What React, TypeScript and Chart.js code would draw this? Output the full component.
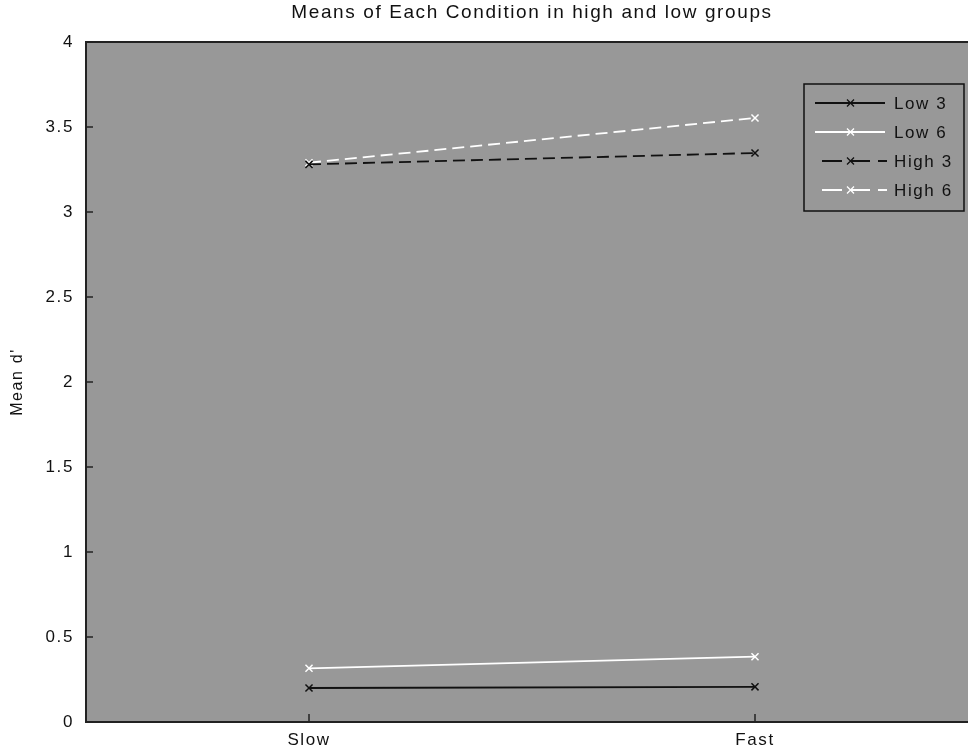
import React, { useEffect, useRef } from "react";
import { Chart, registerables } from "chart.js";

Chart.register(...registerables);

const categories = ["Slow", "Fast"];
const low3 = [0.2, 0.207];
const low6 = [0.316, 0.384];
const high3 = [3.28, 3.347];
const high6 = [3.29, 3.553];
const seriesNames = ["Low 3", "Low 6", "High 3", "High 6"];
const yTicks = [0, 0.5, 1, 1.5, 2, 2.5, 3, 3.5, 4];

const FONT = "'Liberation Sans', Arial, sans-serif";
const CANVAS_W = 978;

const bgPlugin = {
  id: "bgPlugin",
  beforeDraw(chart: any) {
    const { ctx, chartArea } = chart;
    (ctx as any).letterSpacing = "1.6px";
    ctx.save();
    ctx.fillStyle = "#989898";
    ctx.fillRect(chartArea.left, chartArea.top, chartArea.right - chartArea.left, chartArea.bottom - chartArea.top);
    ctx.restore();
  },
  afterDatasetsDraw(chart: any) {
    const { ctx, chartArea, scales } = chart;
    ctx.save();
    ctx.strokeStyle = "#222";
    ctx.lineWidth = 2;
    ctx.beginPath();
    ctx.moveTo(chartArea.right, chartArea.top);
    ctx.lineTo(chartArea.left, chartArea.top);
    ctx.lineTo(chartArea.left, chartArea.bottom);
    ctx.lineTo(chartArea.right, chartArea.bottom);
    ctx.stroke();
    ctx.lineWidth = 1.5;
    yTicks.forEach((v) => {
      const y = Math.round(scales.y.getPixelForValue(v));
      ctx.beginPath();
      ctx.moveTo(chartArea.left, y);
      ctx.lineTo(chartArea.left + 7, y);
      ctx.stroke();
    });
    [1, 2].forEach((v) => {
      const x = Math.round(scales.x.getPixelForValue(v));
      ctx.beginPath();
      ctx.moveTo(x, chartArea.bottom);
      ctx.lineTo(x, chartArea.bottom - 8);
      ctx.stroke();
    });
    // legend
    const lx = 804, ly = 84, lw = 160, lh = 127;
    ctx.fillStyle = "#989898";
    ctx.fillRect(lx, ly, lw, lh);
    ctx.strokeStyle = "#111";
    ctx.lineWidth = 1.5;
    ctx.strokeRect(lx, ly, lw, lh);
    chart.data.datasets.forEach((ds: any, i: number) => {
      const y = ly + 19 + i * 29;
      ctx.strokeStyle = ds.borderColor;
      ctx.lineWidth = 2;
      const dashed = ds.borderDash && ds.borderDash.length;
      ctx.setLineDash(dashed ? [20, 8] : []);
      ctx.beginPath();
      if (dashed) {
        ctx.moveTo(822, y);
        ctx.lineTo(887, y);
      } else {
        ctx.moveTo(815, y);
        ctx.lineTo(885, y);
      }
      ctx.stroke();
      ctx.setLineDash([]);
      ctx.lineWidth = 1.3;
      ctx.beginPath();
      ctx.moveTo(847, y - 3.5);
      ctx.lineTo(854, y + 3.5);
      ctx.moveTo(847, y + 3.5);
      ctx.lineTo(854, y - 3.5);
      ctx.stroke();
      ctx.fillStyle = "#111";
      ctx.font = `17px ${FONT}`;
      (ctx as any).letterSpacing = "1.6px";
      ctx.textBaseline = "middle";
      ctx.textAlign = "left";
      ctx.fillText(ds.label, 894, y + 1);
    });
    ctx.restore();
  },
};

function mk(label: string, vals: number[], color: string, dash: number[]) {
  return {
    label,
    data: vals.map((v, i) => ({ x: i + 1, y: v })),
    borderColor: color,
    backgroundColor: color,
    borderWidth: 1.8,
    borderDash: dash,
    pointStyle: "crossRot",
    pointRadius: 5,
    pointBorderWidth: 1.5,
    pointBorderColor: color,
    tension: 0,
    fill: false,
  };
}

export default function App() {
  const ref = useRef<HTMLCanvasElement>(null);
  useEffect(() => {
    if (!ref.current) return;
    const chart = new Chart(ref.current, {
      type: "line",
      data: {
        datasets: [
          mk(seriesNames[0], low3, "#111111", []),
          mk(seriesNames[1], low6, "#ffffff", []),
          mk(seriesNames[2], high3, "#111111", [12, 6]),
          mk(seriesNames[3], high6, "#ffffff", [12, 6]),
        ],
      },
      options: {
        animation: false,
        responsive: false,
        layout: { autoPadding: false, padding: { left: 0, right: 0, top: 0, bottom: 0 } },
        plugins: {
          legend: { display: false },
          tooltip: { enabled: false },
          title: {
            display: true,
            fullSize: false,
            text: "Means of Each Condition in high and low groups",
            color: "#111",
            font: { family: FONT, size: 19, weight: "normal" },
            padding: { top: 1.5, bottom: 17.7 },
          },
        },
        scales: {
          x: {
            type: "linear",
            min: 0.5,
            max: 2.5,
            afterBuildTicks: (s: any) => {
              s.ticks = [{ value: 1 }, { value: 2 }];
            },
            afterFit: (s: any) => {
              s.height = 30;
            },
            ticks: {
              autoSkip: false,
              maxRotation: 0,
              padding: 8,
              color: "#111",
              font: { family: FONT, size: 17 },
              callback: (v: any) => categories[Math.round(v) - 1] ?? "",
            },
            grid: { display: false, drawTicks: false },
            border: { display: false },
          },
          y: {
            min: 0,
            max: 4,
            afterBuildTicks: (s: any) => {
              s.ticks = yTicks.map((v) => ({ value: v }));
            },
            afterFit: (s: any) => {
              s.width = 86;
            },
            ticks: {
              padding: 12,
              color: "#111",
              font: { family: FONT, size: 17 },
              callback: (v: any) => String(v),
            },
            grid: { display: false, drawTicks: false },
            border: { display: false },
            title: {
              display: true,
              text: "Mean d'",
              color: "#111",
              font: { family: FONT, size: 16 },
              padding: { top: 8, bottom: 0 },
            },
          },
        },
      },
      plugins: [bgPlugin],
    } as any);
    return () => chart.destroy();
  }, []);
  return (
    <div style={{ position: "absolute", left: 0, top: 0, width: 968, height: 752, overflow: "hidden", background: "#fff" }}>
      <canvas ref={ref} width={CANVAS_W} height={752} style={{ display: "block" }} />
    </div>
  );
}
